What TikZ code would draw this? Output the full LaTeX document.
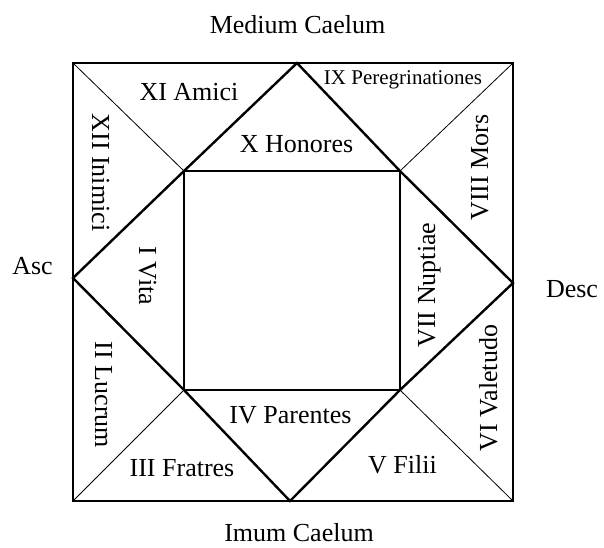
\documentclass[tikz,border=0pt]{standalone}
\usepackage{fontspec}
\setmainfont{Liberation Serif}
\begin{document}
\begin{tikzpicture}[x=1pt,y=-1pt,
  lab/.style={font=\fontsize{26}{30}\selectfont, inner sep=0pt, anchor=base},
  smalllab/.style={font=\fontsize{21}{25}\selectfont, inner sep=0pt, anchor=base},
  thickline/.style={line width=2.4pt, line join=miter},
  thinline/.style={line width=0.8pt}]
\useasboundingbox (0,0) rectangle (604,547);
% outer square corners
\coordinate (OTL) at (73,63);
\coordinate (OTR) at (513,63);
\coordinate (OBR) at (513,501);
\coordinate (OBL) at (73,501);
% inner square corners
\coordinate (ITL) at (184,171);
\coordinate (ITR) at (400,171);
\coordinate (IBR) at (400,390);
\coordinate (IBL) at (184,390);
% diamond vertices
\coordinate (DT) at (297,63);
\coordinate (DR) at (513,283);
\coordinate (DB) at (290,501);
\coordinate (DL) at (73,278);
% thin diagonals
\draw[thinline] (OTL) -- (ITL);
\draw[thinline] (OTR) -- (ITR);
\draw[thinline] (OBL) -- (IBL);
\draw[thinline] (OBR) -- (IBR);
% diamond
\draw[thickline] (DT) -- (ITL) -- (DL) -- (IBL) -- (DB) -- (IBR) -- (DR) -- (ITR) -- cycle;
% inner square
\draw[thickline] (ITL) -- (ITR) -- (IBR) -- (IBL) -- cycle;
% outer square
\draw[thickline] (OTL) -- (OTR) -- (OBR) -- (OBL) -- cycle;
% outside labels
\node[lab] (mc) at (297.5,33) {Medium Caelum};
\node[lab] (ic) at (299,541) {Imum Caelum};
\node[lab] (asc) at (32.5,274) {Asc};
\node[lab] (desc) at (572,297) {Desc};
% houses
\node[lab] (h1) at (139,276) [rotate=-90] {I Vita};
\node[lab] (h2) at (95,395) [rotate=-90] {II Lucrum};
\node[lab] (h3) at (182,476) {III Fratres};
\node[lab] (h4) at (290.5,423) {IV Parentes};
\node[lab] (h5) at (402.5,473) {V Filii};
\node[lab] (h6) at (497,388) [rotate=90] {VI Valetudo};
\node[lab] (h7) at (435,285) [rotate=90] {VII Nuptiae};
\node[lab] (h8) at (488,167.5) [rotate=90] {VIII Mors};
\node[smalllab] (h9) at (403,84) {IX Peregrinationes};
\node[lab] (h10) at (296.5,152) {X Honores};
\node[lab] (h11) at (189,100) {XI Amici};
\node[lab] (h12) at (92,172.5) [rotate=-90] {XII Inimici};
\end{tikzpicture}
\end{document}
